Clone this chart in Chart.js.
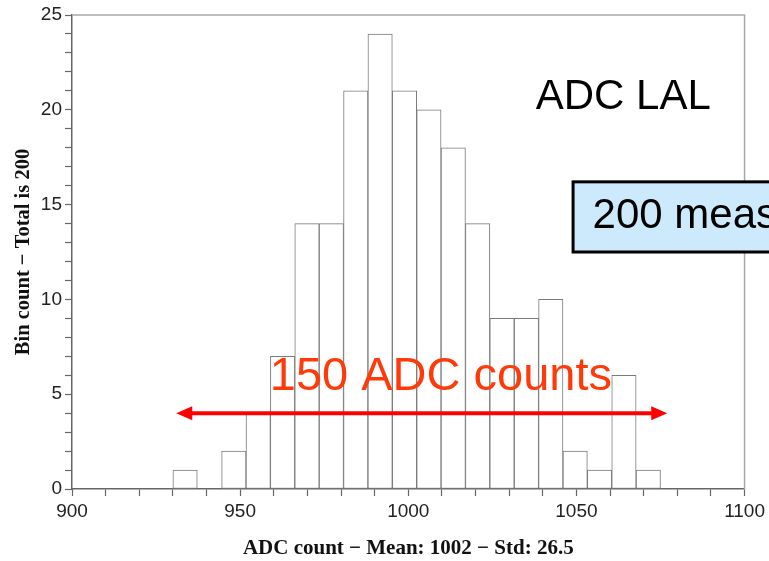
<!DOCTYPE html>
<html>
<head>
<meta charset="utf-8">
<script src="https://cdn.jsdelivr.net/npm/chart.js@4.4.0/dist/chart.umd.min.js"></script>
<style>
  body { margin: 0; background: #fff; }
  #wrap { width: 769px; height: 561px; position: relative; }
</style>
</head>
<body>
<div id="wrap"><canvas id="myChart"></canvas></div>
<script>
// histogram bins (lower edges) and counts
const binLow = [930, 937.25, 944.5, 951.75, 959, 966.25, 973.5, 980.75, 988, 995.25,
  1002.5, 1009.75, 1017, 1024.25, 1031.5, 1038.75, 1046, 1053.25, 1060.5, 1067.75];
const binWidth = 7.25;
const binCounts = [1, 0, 2, 4, 7, 14, 14, 21, 24, 21, 20, 18, 14, 9, 9, 10, 2, 1, 6, 1];

const xMajorTicks = [900, 950, 1000, 1050, 1100];
const yMajorTicks = [0, 5, 10, 15, 20, 25];

const xTitle = "ADC count \u2212 Mean: 1002 \u2212 Std: 26.5";
const yTitle = "Bin count \u2212 Total is 200";

// annotation anchors in data units
const arrowFrom = 931;
const arrowTo = 1077;
const arrowLevel = 4;

const sans = "'Liberation Sans', Arial, Helvetica, sans-serif";
const serif = "'Liberation Serif', 'Times New Roman', serif";

const annotations = {
  id: "annotations",
  afterDraw(chart) {
    const { ctx, chartArea, scales } = chart;
    const x = scales.x, y = scales.y;
    ctx.save();

    // frame: top and right borders
    ctx.strokeStyle = "#a8a8a8";
    ctx.lineWidth = 1.5;
    ctx.beginPath();
    ctx.moveTo(chartArea.left, chartArea.top);
    ctx.lineTo(chartArea.right, chartArea.top);
    ctx.lineTo(chartArea.right, chartArea.bottom);
    ctx.stroke();

    // red double arrow
    const ay = y.getPixelForValue(arrowLevel);
    const ax1 = x.getPixelForValue(arrowFrom);
    const ax2 = x.getPixelForValue(arrowTo);
    ctx.strokeStyle = "#ff0000";
    ctx.fillStyle = "#ff0000";
    ctx.lineWidth = 4;
    ctx.beginPath();
    ctx.moveTo(ax1 + 10, ay);
    ctx.lineTo(ax2 - 10, ay);
    ctx.stroke();
    ctx.beginPath();
    ctx.moveTo(ax1, ay);
    ctx.lineTo(ax1 + 16, ay - 7);
    ctx.lineTo(ax1 + 16, ay + 7);
    ctx.closePath();
    ctx.fill();
    ctx.beginPath();
    ctx.moveTo(ax2, ay);
    ctx.lineTo(ax2 - 16, ay - 7);
    ctx.lineTo(ax2 - 16, ay + 7);
    ctx.closePath();
    ctx.fill();

    // "150 ADC counts"
    ctx.font = "47px " + sans;
    ctx.textBaseline = "alphabetic";
    ctx.textAlign = "left";
    ctx.fillStyle = "#ff3a0a";
    ctx.fillText("150 ADC counts", x.getPixelForValue(958.8), y.getPixelForValue(5.22));

    // "ADC LAL"
    ctx.font = "42px " + sans;
    ctx.fillStyle = "#000";
    ctx.fillText("ADC LAL", x.getPixelForValue(1037.9), y.getPixelForValue(20.04));

    // boxed note, runs off the right edge
    const bx = x.getPixelForValue(1049);
    const by1 = y.getPixelForValue(16.2);
    const by2 = y.getPixelForValue(12.5);
    ctx.fillStyle = "#cdeafc";
    ctx.fillRect(bx, by1, chart.width + 20 - bx, by2 - by1);
    ctx.strokeStyle = "#000";
    ctx.lineWidth = 3;
    ctx.strokeRect(bx, by1, chart.width + 20 - bx, by2 - by1);
    ctx.fillStyle = "#000";
    ctx.font = "42px " + sans;
    ctx.fillText("200 measurements", x.getPixelForValue(1054.8), y.getPixelForValue(13.77));

    ctx.restore();
  },
};

const ctx = document.getElementById("myChart").getContext("2d");
new Chart(ctx, {
  type: "bar",
  data: {
    datasets: [
      {
        data: binLow.map((lo, i) => ({ x: lo + binWidth / 2, y: binCounts[i] })),
        backgroundColor: "#ffffff",
        borderColor: "#7a7a7a",
        borderWidth: 1,
        borderSkipped: false,
        barPercentage: 1,
        categoryPercentage: 1,
      },
    ],
  },
  options: {
    responsive: true,
    maintainAspectRatio: false,
    animation: false,
    layout: { padding: { top: 15, right: 24, left: 0, bottom: 0 } },
    plugins: {
      legend: { display: false },
      tooltip: { enabled: false },
    },
    scales: {
      x: {
        type: "linear",
        min: 900,
        max: 1100,
        offset: false,
        afterFit: (scale) => { scale.height = 72; },
        ticks: {
          stepSize: 10,
          autoSkip: false,
          maxRotation: 0,
          padding: 4,
          color: "#222",
          font: { family: sans, size: 19 },
          callback: (v) => (xMajorTicks.includes(v) ? v : ""),
        },
        grid: {
          offset: false,
          drawOnChartArea: false,
          drawTicks: true,
          tickLength: 7,
          tickColor: "#666",
          tickWidth: 1.2,
        },
        border: { display: true, color: "#666", width: 1.5 },
        title: {
          display: true,
          text: xTitle,
          color: "#111",
          font: { family: serif, size: 21, weight: "bold" },
          padding: { top: 0, bottom: 0 },
        },
      },
      y: {
        min: 0,
        max: 25,
        afterFit: (scale) => { scale.width = 72; },
        ticks: {
          stepSize: 1,
          autoSkip: false,
          padding: 3,
          color: "#222",
          font: { family: sans, size: 19 },
          callback: (v) => (yMajorTicks.includes(v) ? v : ""),
        },
        grid: {
          drawOnChartArea: false,
          drawTicks: true,
          tickLength: 7,
          tickColor: "#666",
          tickWidth: 1.2,
        },
        border: { display: true, color: "#666", width: 1.5 },
        title: {
          display: true,
          text: yTitle,
          color: "#111",
          font: { family: serif, size: 20.5, weight: "bold" },
          padding: { top: 11, bottom: 0 },
        },
      },
    },
  },
  plugins: [annotations],
});
</script>
</body>
</html>
